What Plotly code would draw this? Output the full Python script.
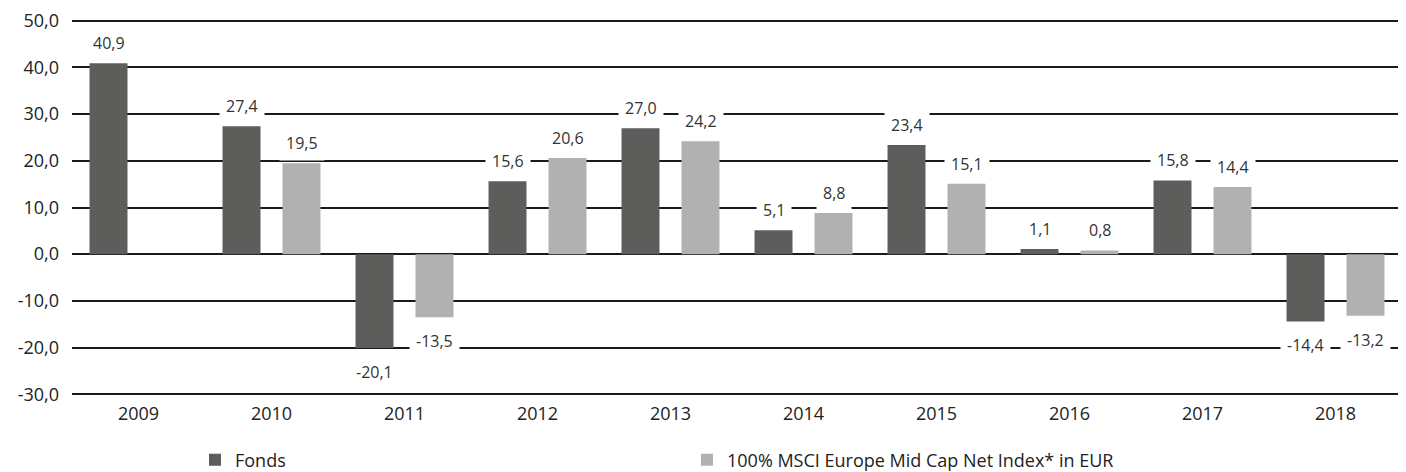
import plotly.graph_objects as go

years = ["2009", "2010", "2011", "2012", "2013", "2014", "2015", "2016", "2017", "2018"]
fonds = [40.9, 27.4, -20.1, 15.6, 27.0, 5.1, 23.4, 1.1, 15.8, -14.4]
index = [None, 19.5, -13.5, 20.6, 24.2, 8.8, 15.1, 0.8, 14.4, -13.2]
y_ticks = [-30, -20, -10, 0, 10, 20, 30, 40, 50]

name_fonds = "Fonds"
name_index = "100% MSCI Europe Mid Cap Net Index* in EUR"
col_fonds = "#5d5d5c"
col_index = "#b1b1b1"
FONT = "Open Sans, DejaVu Sans, sans-serif"

W, H = 1398, 464  # page body has an 8px margin in the 1406x472 window


def fmt(v):
    return f"{v:.1f}".replace(".", ",")


fig = go.Figure()
fig.add_trace(go.Bar(x=years, y=fonds, name=name_fonds, marker=dict(color=col_fonds, line=dict(width=0))))
fig.add_trace(go.Bar(x=years, y=index, name=name_index, marker=dict(color=col_index, line=dict(width=0))))

annotations = []
for series, shift in ((fonds, -30), (index, 30)):
    for i, v in enumerate(series):
        if v is None:
            continue
        annotations.append(dict(
            x=i, y=v, xref="x", yref="y", text=fmt(v), showarrow=False,
            xshift=shift, yshift=20 if v >= 0 else -24,
            xanchor="center", yanchor="middle",
            bgcolor="white", borderpad=6,
            font=dict(family=FONT, size=16, color="#333333"),
        ))

fig.update_layout(
    template="none",
    width=W, height=H,
    margin=dict(l=64, r=4, t=10, b=75, autoexpand=False),
    paper_bgcolor="white", plot_bgcolor="white",
    barmode="group", bargap=0.098, bargroupgap=0.367,
    font=dict(family=FONT, size=16, color="#222222"),
    annotations=annotations,
    showlegend=True,
    legend=dict(orientation="h", xref="container", yref="container",
                x=187 / W, y=12 / H, xanchor="left", yanchor="middle",
                entrywidth=447, entrywidthmode="pixels", itemwidth=30,
                bgcolor="rgba(0,0,0,0)",
                font=dict(family=FONT, size=18, color="#222222")),
)
fig.update_xaxes(type="category", range=[-0.5, 9.5], autorange=False, automargin=False,
                 showgrid=False, showline=False, zeroline=False, ticks="",
                 ticklabelstandoff=4, ticklabeloverflow="allow",
                 tickfont=dict(size=18, color="#222222"))
fig.update_yaxes(range=[-30.6, 50.6], autorange=False, automargin=False,
                 tickvals=y_ticks, ticktext=[fmt(t) for t in y_ticks],
                 showgrid=True, gridcolor="#1a1a1a", gridwidth=2,
                 zeroline=True, zerolinecolor="#1a1a1a", zerolinewidth=2,
                 showline=False, ticks="", ticklabelstandoff=12, ticklabeloverflow="allow",
                 tickfont=dict(size=18, color="#222222"))

fig.write_html("out.html")
